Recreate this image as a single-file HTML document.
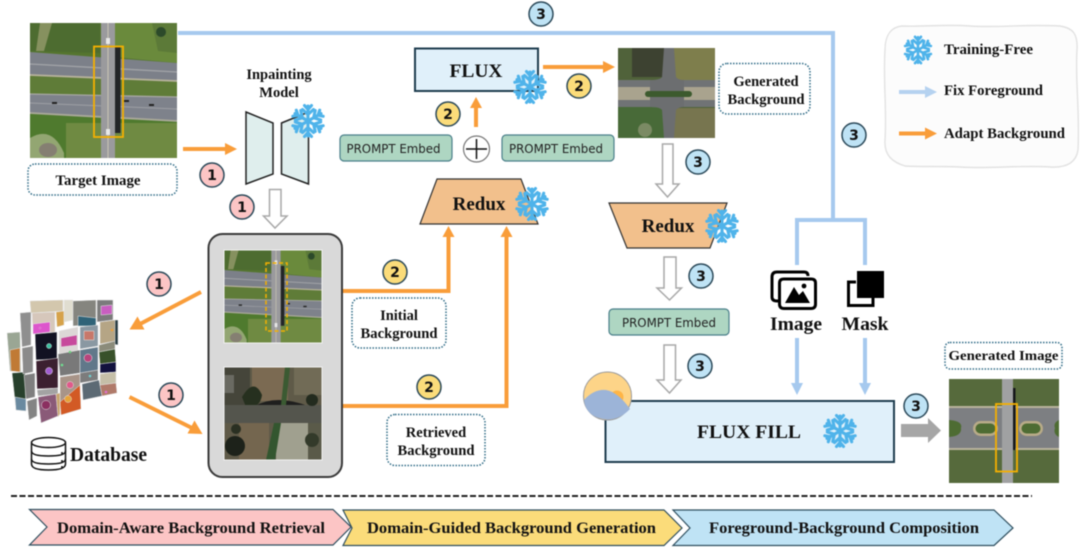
<!DOCTYPE html>
<html>
<head>
<meta charset="utf-8">
<style>
html,body{margin:0;padding:0;background:#fff;width:1080px;height:548px;overflow:hidden}
svg.root{display:block;filter:blur(0.4px)}
.s{font-family:"Liberation Serif",serif;font-weight:bold;fill:#111}
.d{font-family:"DejaVu Sans",sans-serif;fill:#222}
.n{font-family:"DejaVu Sans",sans-serif;font-weight:bold;font-size:14px;fill:#111;text-anchor:middle}
.lb{fill:#fff;stroke:#2f6b86;stroke-width:1.5;stroke-dasharray:1.5 1.5}
.or{fill:none;stroke:#f99d3a;stroke-width:4}
.bl{fill:none;stroke:#a6c9ee;stroke-width:4}
.hl{fill:#fff;stroke:#a8a8a8;stroke-width:1.5}
</style>
</head>
<body>
<svg class="root" width="1080" height="548" viewBox="0 0 1080 548" xmlns="http://www.w3.org/2000/svg">
<defs>
<g id="flake" fill="none" stroke="#4fb3ea" stroke-width="3.1" stroke-linecap="round" stroke-linejoin="round">
  <g id="a1"><path d="M0 0V-15M-5.500 -11.500L0 -6.500L5.500 -11.500M-3.500 -15.500L0 -11.500L3.500 -15.500"/></g>
  <use href="#a1" transform="rotate(60)"/><use href="#a1" transform="rotate(120)"/>
  <use href="#a1" transform="rotate(180)"/><use href="#a1" transform="rotate(240)"/><use href="#a1" transform="rotate(300)"/>
</g>
<g id="bridge">
  <rect width="147" height="135" fill="#55752f"/>
  <path d="M0 0H70V30L0 28Z" fill="#4d6c30"/>
  <path d="M10 0L22 0L14 28H6Z" fill="#86915f"/>
  <path d="M85 0H147V40L85 34Z" fill="#6a8a3c"/>
  <path d="M122 0H147V30L128 28Z" fill="#5c7a38"/>
  <circle cx="131" cy="9" r="5" fill="#2c4a2a"/>
  <path d="M0 53L147 58V74L0 71Z" fill="#5f7c38"/>
  <path d="M0 90L147 98V135H0Z" fill="#4f7a2e"/>
  <path d="M36 100L147 100V135H36Z" fill="#6f8a42"/>
  <path d="M0 115Q22 102 34 130V135H0Z" fill="#93a672"/>
  <ellipse cx="18" cy="127" rx="9" ry="7" fill="#857f72"/>
  <path d="M0 29L147 40V58L0 52Z" fill="#7c8089"/>
  <path d="M0 41L147 49" stroke="#a2a4a8" stroke-width="1.300"/>
  <path d="M0 52L147 58" stroke="#b7b29c" stroke-width="1.800"/>
  <path d="M0 71L147 74V98L0 90Z" fill="#7e828b"/>
  <path d="M0 71L147 74" stroke="#a8a8a4" stroke-width="1.300"/>
  <path d="M0 80L147 86" stroke="#9ea0a5" stroke-width="1"/>
  <path d="M0 90L147 98" stroke="#aaa99a" stroke-width="1.800"/>
  <rect x="85" y="23" width="5.500" height="87" fill="#232527"/>
  <rect x="71" y="0" width="14" height="135" fill="#9a9a9d"/>
  <rect x="77.500" y="0" width="1" height="135" fill="#c9c6b4"/>
  <rect x="76" y="15" width="4" height="6" fill="#e8e8e8"/>
  <rect x="76" y="106" width="4" height="6" fill="#e8e8e8"/>
  <rect x="22" y="79" width="5" height="2" fill="#222"/>
  <rect x="119" y="81" width="5" height="2" fill="#222"/>
  <rect x="94" y="77" width="5" height="2" fill="#222"/>
</g>
</defs>

<!-- top image -->
<svg x="30" y="23" width="147" height="135" viewBox="0 0 147 135"><use href="#bridge"/></svg>
<rect x="94" y="46.500" width="29" height="90.500" fill="none" stroke="#f5b000" stroke-width="1.800"/>
<rect x="28" y="164" width="149" height="31" rx="7" class="lb"/>
<text x="98" y="185" text-anchor="middle" class="s" font-size="15" textLength="85" lengthAdjust="spacingAndGlyphs">Target Image</text>

<!-- blue main line -->
<path class="bl" d="M178 33H833V220"/>
<path class="bl" d="M797 265V220H865V265"/>
<path class="bl" d="M797 338V385M865 338V385"/>
<path d="M791 383H803L797 395ZM859 383H871L865 395Z" fill="#a6c9ee"/>

<!-- Inpainting -->
<text x="279" y="79" text-anchor="middle" class="s" font-size="14.500">Inpainting</text>
<text x="279" y="97" text-anchor="middle" class="s" font-size="14.500">Model</text>
<path d="M183 149H227" class="or"/><path d="M225 143L237 149L225 155Z" fill="#f99d3a"/>
<path d="M246 112L273 123V174L246 184Z" fill="#dfeeed" stroke="#222" stroke-width="1.500"/>
<path d="M281.500 123L308.500 112V184L281.500 174Z" fill="#dfeeed" stroke="#222" stroke-width="1.500"/>
<use href="#flake" transform="translate(308,121)"/>

<path class="hl" d="M269.500 189.500H281V216H287L275 228L263.500 216H269.500Z"/>

<!-- gray box -->
<rect x="208.500" y="234" width="133.500" height="243" rx="14" fill="#d9d9d9" stroke="#3a3a3a" stroke-width="2"/>
<svg x="224" y="250" width="98" height="93" viewBox="0 0 147 135" preserveAspectRatio="none"><use href="#bridge"/></svg>
<rect x="224" y="250" width="98" height="93" fill="none" stroke="#f2f2f2" stroke-width="1"/>
<rect x="266" y="263" width="21" height="68" fill="none" stroke="#f5b000" stroke-width="1.500" stroke-dasharray="4 2.500"/>

<!-- retrieved image -->
<svg x="224" y="367" width="98" height="93" viewBox="0 0 98 93">
  <rect width="98" height="93" fill="#5f5a48"/>
  <rect x="28" y="0" width="36" height="34" fill="#7b6a52"/>
  <rect x="70" y="0" width="28" height="28" fill="#716b56"/>
  <rect x="0" y="0" width="26" height="40" fill="#45453a"/>
  <rect x="0" y="8" width="10" height="18" fill="#6a6a62"/>
  <path d="M18 30q12-20 20-2q-2 14-16 12Z" fill="#26301f"/>
  <path d="M31 39Q52 27 84 39Z" fill="#1f1f1e"/>
  <rect x="0" y="38" width="98" height="18" fill="#54554d"/>
  <rect x="15" y="56" width="30" height="37" fill="#74664f"/>
  <rect x="52" y="56" width="32" height="37" fill="#a0a08f"/>
  <rect x="84" y="56" width="14" height="37" fill="#5a5a49"/>
  <path d="M61 0H66L62 38H57Z" fill="#3b5a32"/>
  <path d="M50 56H57L51 93H42Z" fill="#33562f"/>
  <circle cx="11" cy="79" r="10" fill="#1d221a"/>
  <circle cx="12" cy="62" r="5" fill="#2a3022"/>
  <circle cx="88" cy="33" r="6" fill="#232b1e"/>
  <circle cx="88" cy="73" r="7" fill="#333a2a"/>
</svg>
<rect x="224" y="367" width="98" height="93" fill="none" stroke="#f2f2f2" stroke-width="1"/>

<!-- arrows left -->
<path class="or" d="M201 292L140 324"/><path d="M129.500 329.500L137.500 316.500L144.500 329.500Z" fill="#f99d3a"/>
<path class="or" d="M129.500 397L192 428"/><path d="M202.500 434L187.500 433.500L194.500 420.500Z" fill="#f99d3a"/>

<!-- collage -->
<g stroke="#e6e6e6" stroke-width=".5">
  <path d="M7 333L20 332L21 372L10 371Z" fill="#9aa694"/><path d="M10 350L20 348V372L11 371Z" fill="#c07a35"/>
  <path d="M12 373L25 372L26 411L16 410Z" fill="#27402c"/><path d="M15 397L26 399V411L16 410Z" fill="#6a8aa0"/>
  <path d="M20 313L31 312V345L22 347Z" fill="#8f8f8f"/>
  <path d="M22 348L33 346V372L23 374Z" fill="#8b8b8b"/>
  <path d="M24 375L35 373V397L26 399Z" fill="#7f7f7f"/>
  <path d="M27 401L37 398V416L29 420Z" fill="#848484"/>
  <path d="M30 301L63 300V311L31 313Z" fill="#d3c7ad"/>
  <path d="M32 313L55 312V332L33 334Z" fill="#d6c7bb"/><path d="M33 324L50 322V332L33 334Z" fill="#dd55cc"/>
  <path d="M56 312L64 311V325L57 327Z" fill="#d6a24a"/>
  <path d="M64 300L73 300V320L64 322Z" fill="#e0ddd0"/>
  <path d="M73 301L96 300V324L73 326Z" fill="#85857f"/>
  <path d="M78 316L96 318V326L78 326Z" fill="#2f6378"/>
  <path d="M97 300L113 300V320L97 322Z" fill="#7b7b7b"/><path d="M101 306L112 305V314L101 315Z" fill="#c95ec0"/>
  <path d="M112 320L118 320V345L113 344Z" fill="#273a40"/>
  <path d="M100 322L115 320V341L100 344Z" fill="#b5a585"/>
  <path d="M35 334L57 332V359L36 360Z" fill="#121222"/><circle cx="49" cy="346" r="2.500" fill="#3bc0a0"/>
  <path d="M59 331L78 327V351L59 354Z" fill="#dcd7d6"/><path d="M61 338L77 335V345L61 347Z" fill="#c74a9c"/>
  <path d="M58 354L80 350V373L60 376Z" fill="#797979"/>
  <path d="M80 327L98 325V346L80 349Z" fill="#8a98a2"/><path d="M84 331H94V340H84Z" fill="#c8786a"/>
  <path d="M99 345L115 341V349L99 352Z" fill="#8b8b7a"/>
  <path d="M99 352L115 349L116 362L100 364Z" fill="#38512a"/>
  <path d="M100 364L116 362V372L100 373Z" fill="#12123e"/>
  <path d="M80 350L98 347V370L80 373Z" fill="#61788a"/><circle cx="88" cy="358" r="4" fill="#b8447c"/>
  <path d="M36 361L58 358V388L37 389Z" fill="#3c2030"/><circle cx="49" cy="371" r="3.500" fill="#a25cd0"/>
  <path d="M60 377L80 374V398L60 402Z" fill="#a89488"/><circle cx="70" cy="385" r="3.500" fill="#e05a8a"/>
  <path d="M80 373L98 370V380L80 383Z" fill="#7c7c7c"/>
  <path d="M82 384L99 380L102 396L83 400Z" fill="#5c6a74"/>
  <path d="M100 374L116 372V383L100 385Z" fill="#c5bfa8"/>
  <path d="M100 385L116 383L117 393L102 396Z" fill="#b07a6a"/>
  <path d="M60 402L80 385L81 409L61 415Z" fill="#d25a25"/><circle cx="68" cy="399" r="3.500" fill="#e6a33a"/>
  <path d="M37 390L58 388V394L38 396Z" fill="#a3a3a3"/>
  <path d="M38 397L56 394L58 416L41 423Z" fill="#8a5a78"/><circle cx="46" cy="405" r="4.500" fill="#8b3060"/>
  <path d="M56 394L60 393V414L58 417Z" fill="#c8a46e"/>
</g>
<g fill="#e070d0"><circle cx="40" cy="328" r="1.500"/><circle cx="70" cy="352" r="1.300" fill="#70d080"/><circle cx="90" cy="376" r="1.300" fill="#70d0d0"/><circle cx="106" cy="392" r="1.300"/><circle cx="62" cy="365" r="1.300" fill="#70e090"/><circle cx="112" cy="330" r="1.300" fill="#e8a040"/></g>

<!-- database -->
<g fill="#fff" stroke="#111" stroke-width="1.500">
  <path d="M31.500 443V464Q31.500 470 48.500 470Q65.500 470 65.500 464V443"/>
  <ellipse cx="48.500" cy="442.500" rx="17" ry="5"/>
  <path d="M31.500 451Q31.500 456 48.500 456Q65.500 456 65.500 451" fill="none"/>
  <path d="M31.500 459Q31.500 464 48.500 464Q65.500 464 65.500 459" fill="none"/>
</g>
<circle cx="62" cy="453" r="1" fill="#111"/><circle cx="62" cy="461" r="1" fill="#111"/><circle cx="62" cy="467" r="1" fill="#111"/>
<text x="70" y="461" class="s" font-size="19.500" textLength="77" lengthAdjust="spacingAndGlyphs">Database</text>

<!-- orange from box -->
<path class="or" d="M343 291H448.500V235"/>
<path class="or" d="M343 406H506.500V235"/>
<path d="M442.500 237H454.500L448.500 226ZM500.500 237H512.500L506.500 226Z" fill="#f99d3a"/>
<rect x="352" y="298" width="94" height="50" rx="8" class="lb"/>
<text x="399" y="320" text-anchor="middle" class="s" font-size="14.500">Initial</text>
<text x="399" y="338" text-anchor="middle" class="s" font-size="14.500" textLength="77" lengthAdjust="spacingAndGlyphs">Background</text>
<rect x="387" y="414.500" width="98" height="51" rx="8" class="lb"/>
<text x="436" y="437" text-anchor="middle" class="s" font-size="14.500">Retrieved</text>
<text x="436" y="455" text-anchor="middle" class="s" font-size="14.500" textLength="77" lengthAdjust="spacingAndGlyphs">Background</text>

<!-- Redux 1 -->
<path d="M437 179H521L538 224H420Z" fill="#f2c08c" stroke="#333" stroke-width="1.200"/>
<text x="479" y="210" text-anchor="middle" class="s" font-size="19">Redux</text>
<use href="#flake" transform="translate(532,204)"/>

<!-- prompt embeds -->
<rect x="340" y="135" width="112" height="26" rx="4" fill="#aed6c2" stroke="#4a7f8a" stroke-width="1.200"/>
<text x="346.500" y="153" class="d" font-size="12" textLength="94" lengthAdjust="spacingAndGlyphs">PROMPT Embed</text>
<rect x="502" y="135" width="112" height="26" rx="4" fill="#aed6c2" stroke="#4a7f8a" stroke-width="1.200"/>
<text x="509" y="153" class="d" font-size="12" textLength="94" lengthAdjust="spacingAndGlyphs">PROMPT Embed</text>
<circle cx="476.500" cy="149" r="13" fill="#fff" stroke="#777" stroke-width="1.200"/>
<path d="M466 149H487M476.500 139V159" stroke="#111" stroke-width="1.500"/>

<!-- FLUX -->
<path class="or" d="M476 127V106"/><path d="M470 108H482L476 97Z" fill="#f99d3a"/>
<rect x="415" y="48.500" width="123" height="42.500" fill="#e0f0fa" stroke="#1f3d4f" stroke-width="2"/>
<text x="476" y="77" text-anchor="middle" class="s" font-size="19" textLength="53" lengthAdjust="spacingAndGlyphs">FLUX</text>
<use href="#flake" transform="translate(530,87)"/>
<path class="or" d="M543 67H605"/><path d="M603 61L615 67L603 73Z" fill="#f99d3a"/>

<!-- gen bg -->
<svg x="618" y="48" width="97" height="90" viewBox="0 0 97 90">
  <rect width="97" height="90" fill="#50623a"/>
  <rect x="14" y="0" width="32" height="29" fill="#3d4231"/>
  <rect x="56" y="0" width="41" height="32" fill="#7e7e4c"/>
  <rect x="0" y="59" width="46" height="31" fill="#486a38"/>
  <rect x="56" y="60" width="41" height="30" fill="#77754f"/>
  <rect x="0" y="32" width="97" height="27" fill="#a9a38e"/>
  <rect x="0" y="32" width="97" height="7" fill="#707375"/>
  <rect x="0" y="52" width="97" height="7" fill="#707375"/>
  <path d="M46 0H56L58 29Q60 32 66 32V59Q60 59 58 62L56 90H46L44 62Q42 59 32 59V32Q42 32 44 29Z" fill="#6c6e70"/>
  <rect x="27" y="43" width="47" height="6" rx="3" fill="#3c5a2e"/>
  <circle cx="27" cy="82" r="7" fill="#7b8a64"/>
</svg>
<rect x="719" y="63.500" width="91" height="50.500" rx="8" class="lb"/>
<text x="766" y="86" text-anchor="middle" class="s" font-size="14.500">Generated</text>
<text x="766" y="104" text-anchor="middle" class="s" font-size="14.500" textLength="77" lengthAdjust="spacingAndGlyphs">Background</text>

<path class="hl" d="M662.500 144H673V184H679L667.500 197L656 184H662.500Z"/>

<!-- Redux 2 -->
<path d="M609 203H727L710 248H627Z" fill="#f2c08c" stroke="#333" stroke-width="1.200"/>
<text x="668" y="232" text-anchor="middle" class="s" font-size="19">Redux</text>
<use href="#flake" transform="translate(722,226)"/>

<path class="hl" d="M664 257H676V288H681.500L669.500 300L657 288H664Z"/>
<rect x="609" y="309" width="120" height="26" rx="4" fill="#aed6c2" stroke="#4a7f8a" stroke-width="1.200"/>
<text x="622" y="327" class="d" font-size="12" textLength="94" lengthAdjust="spacingAndGlyphs">PROMPT Embed</text>
<path class="hl" d="M664 345H675.500V380H681L669.500 393L657 380H664Z"/>

<!-- FLUX FILL -->
<rect x="605.500" y="401" width="288.500" height="61" fill="#e0f0fa" stroke="#1f3d4f" stroke-width="2"/>
<circle cx="607.500" cy="396" r="24" fill="#fdd488" stroke="#999" stroke-width="1"/>
<circle cx="617" cy="397" r="6.500" fill="#ffb546"/>
<path d="M584 400Q594 389 606 390Q618 392 630 409Q620 419.500 607.500 419.500Q586 418 584 400Z" fill="#9cb4d8"/>
<text x="749" y="438" text-anchor="middle" class="s" font-size="19" textLength="104" lengthAdjust="spacingAndGlyphs">FLUX FILL</text>
<use href="#flake" transform="translate(840,431)"/>

<!-- image + mask icons -->
<g fill="none" stroke="#000" stroke-width="3">
  <path d="M772 297V277Q772 272 777 272H804Q808 272 808 276"/>
  <path d="M784 279H811Q815.500 279 815.500 283V304Q815.500 308.500 811 308.500H784Q779.500 308.500 779.500 304V283Q779.500 279 784 279Z" fill="#fff"/>
  <path d="M772 297Q772 301 777 301H779"/>
</g>
<path d="M785 303L794 287L799 295L803 291L810 303Z" fill="#000"/>
<circle cx="804" cy="286" r="2.400" fill="#000"/>
<text x="796" y="330" text-anchor="middle" class="s" font-size="19" textLength="52" lengthAdjust="spacingAndGlyphs">Image</text>
<rect x="857" y="271" width="27" height="27" fill="#000"/>
<path d="M856 282H848.500V305.500H873V298" fill="none" stroke="#000" stroke-width="3"/>
<text x="865" y="330" text-anchor="middle" class="s" font-size="19" textLength="47" lengthAdjust="spacingAndGlyphs">Mask</text>

<!-- gray arrow -->
<path d="M901 424H928V418L941 430.500L928 443V437H901Z" fill="#a6a6a6"/>

<!-- generated image -->
<rect x="945" y="342.500" width="117" height="26.500" rx="5" class="lb"/>
<text x="1003.500" y="360" text-anchor="middle" class="s" font-size="14" textLength="110" lengthAdjust="spacingAndGlyphs">Generated Image</text>
<svg x="949" y="379" width="110" height="104" viewBox="0 0 110 104">
  <rect width="110" height="104" fill="#566a3c"/>
  <rect x="0" y="27" width="110" height="44" fill="#b8b29c"/>
  <rect x="0" y="29" width="110" height="40" fill="#7d7f82"/>
  <rect x="24" y="42" width="25" height="15" rx="7.500" fill="#b8ab88"/>
  <rect x="26.500" y="44.500" width="20" height="10" rx="5" fill="#4e6c33"/>
  <rect x="70" y="42" width="24" height="15" rx="7.500" fill="#b8ab88"/>
  <rect x="72.500" y="44.500" width="19" height="10" rx="5" fill="#4e6c33"/>
  <path d="M0 41Q14 42 12 49Q13 57 0 58Z" fill="#4e6c33"/>
  <path d="M110 41Q104 44 106 49Q104 55 110 58Z" fill="#4e6c33"/>
  <rect x="53" y="0" width="11" height="104" fill="#a0a1a2"/>
  <rect x="64" y="9" width="2.500" height="62" fill="#15171a"/>
</svg>
<rect x="996" y="404" width="21" height="67.500" fill="none" stroke="#f5b000" stroke-width="1.800"/>

<!-- legend -->
<path d="M902 26C925 27 945 24 970 26C1000 28 1020 24 1060 26C1073 28 1078 34 1077 50C1075 80 1080 110 1078 150C1076 163 1066 168 1050 167C1020 165 990 169 960 167C935 166 920 167 905 166C892 162 884 155 885 140C887 110 883 80 885 50C885 34 892 27 902 26Z" fill="#fcfcfc" stroke="#e2e2e2" stroke-width="1.400"/>
<use href="#flake" transform="translate(918,50) scale(.85)"/>
<text x="944" y="54" class="s" font-size="14.500" textLength="89" lengthAdjust="spacingAndGlyphs">Training-Free</text>
<text x="944" y="95" class="s" font-size="14.500" textLength="99" lengthAdjust="spacingAndGlyphs">Fix Foreground</text>
<text x="944" y="138" class="s" font-size="14.500" textLength="121" lengthAdjust="spacingAndGlyphs">Adapt Background</text>
<path d="M899 92H927" stroke="#b5d2f0" stroke-width="4"/><path d="M925 86L937 92L925 98Z" fill="#b5d2f0"/>
<path d="M899 133.500H927" class="or"/><path d="M925 127.500L937 133.500L925 139.500Z" fill="#f99d3a"/>

<!-- badges -->
<g stroke="#2c4a5a" stroke-width="1.500">
  <circle cx="212" cy="175" r="12" fill="#fcc5c5"/>
  <circle cx="242" cy="207" r="12" fill="#fcc5c5"/>
  <circle cx="159" cy="284" r="12" fill="#fcc5c5"/>
  <circle cx="171" cy="395" r="12" fill="#fcc5c5"/>
  <circle cx="448" cy="114" r="12" fill="#fbdc7a"/>
  <circle cx="579" cy="86" r="12" fill="#fbdc7a"/>
  <circle cx="395" cy="272" r="12" fill="#fbdc7a"/>
  <circle cx="429" cy="387" r="12" fill="#fbdc7a"/>
  <circle cx="541" cy="14" r="12" fill="#bfe3f5"/>
  <circle cx="698" cy="162" r="12" fill="#bfe3f5"/>
  <circle cx="701" cy="276" r="12" fill="#bfe3f5"/>
  <circle cx="700" cy="366" r="12" fill="#bfe3f5"/>
  <circle cx="854" cy="135" r="12" fill="#bfe3f5"/>
  <circle cx="916" cy="406" r="12" fill="#bfe3f5"/>
</g>
<g class="n">
  <text x="212" y="180" class="n">1</text><text x="242" y="212" class="n">1</text>
  <text x="159" y="289" class="n">1</text><text x="171" y="400" class="n">1</text>
  <text x="448" y="119" class="n">2</text><text x="579" y="91" class="n">2</text>
  <text x="395" y="277" class="n">2</text><text x="429" y="392" class="n">2</text>
  <text x="541" y="19" class="n">3</text><text x="698" y="167" class="n">3</text>
  <text x="701" y="281" class="n">3</text><text x="700" y="371" class="n">3</text>
  <text x="854" y="140" class="n">3</text><text x="916" y="411" class="n">3</text>
</g>

<!-- bottom -->
<path d="M11 496H1032" stroke="#222" stroke-width="2" stroke-dasharray="6 2.500"/>
<path d="M29.500 509.500H333L351 527L333 545H29.500L47 527Z" fill="#fcc5c5" stroke="#2f4f5f" stroke-width="1.200"/>
<path d="M343 510H664L682 528L664 545.500H343L352 528Z" fill="#fbdc7a" stroke="#2f4f5f" stroke-width="1.200"/>
<path d="M673 510H994L1013 528L994 545.500H673L690 528Z" fill="#bfe3f5" stroke="#2f4f5f" stroke-width="1.200"/>
<text x="57" y="533" class="s" font-size="16" textLength="268" lengthAdjust="spacingAndGlyphs">Domain-Aware Background Retrieval</text>
<text x="367" y="533" class="s" font-size="16" textLength="289" lengthAdjust="spacingAndGlyphs">Domain-Guided Background Generation</text>
<text x="709" y="533" class="s" font-size="16" textLength="270" lengthAdjust="spacingAndGlyphs">Foreground-Background Composition</text>
</svg>
</body>
</html>
